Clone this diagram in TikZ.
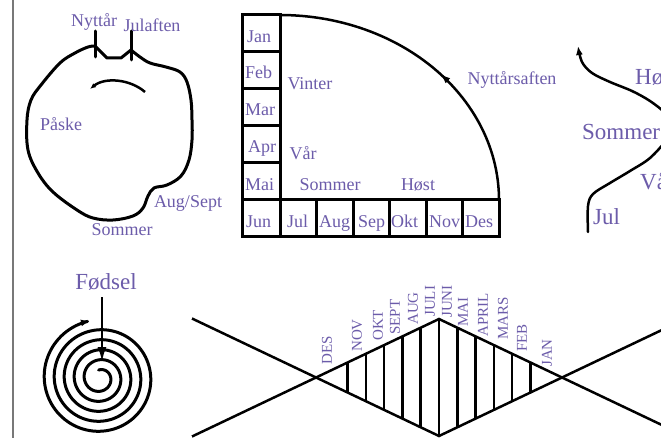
\documentclass[tikz,border=0pt]{standalone}
\usepackage{fontspec}
\setmainfont{Liberation Serif}
\usetikzlibrary{arrows.meta,decorations.markings,calc}
\definecolor{lbl}{RGB}{108,92,170}
\definecolor{framegray}{RGB}{120,120,120}
\begin{document}
\begin{tikzpicture}[x=1pt,y=-1pt,
  lab/.style={text=lbl,font=\fontsize{18}{20}\selectfont,inner sep=0pt},
  biglab/.style={text=lbl,font=\fontsize{23}{25}\selectfont,inner sep=0pt},
  mon/.style={text=lbl,font=\fontsize{15}{17}\selectfont,inner sep=0pt,rotate=90,anchor=west},
  ink/.style={line width=3pt,line join=round,line cap=round},
  dline/.style={line width=2.5pt},
  arrowed/.style={-{Latex[length=9pt,width=7pt]}}]
\useasboundingbox (0,0) rectangle (661,438);
\fill[white] (0,0) rectangle (661,438);
\clip (0,0) rectangle (661,438);
\draw[framegray,line width=1.5pt] (13,0) -- (13,438);

% ---- diagram 1: blob ----
\draw[ink] plot[smooth,tension=0.6] coordinates {(131,50) (140,57) (150,63) (166,67) (180,72) (187,82) (191,100) (192,120) (192,140) (189,160) (181,176) (167,185) (154,188) (148,196) (143,208) (133,216) (113,220) (93,218) (77,210) (53,192) (38,173) (28,150) (27,120) (31,100) (41,85) (60,63) (75,53) (88,47) (95,46)} -- (107,58) -- (121,58) -- cycle;
\coordinate (t1a) at (95,31); \coordinate (t1b) at (95,57);
\coordinate (t2a) at (131,31); \coordinate (t2b) at (131,60);
\draw[ink] (t1a) -- (t1b);
\draw[ink] (t2a) -- (t2b);
\coordinate (ia) at (145,92); \coordinate (ib) at (90,89);
\draw[line width=2.5pt,-{Latex[length=6pt,width=5pt]}] (ia) .. controls (130,79) and (105,77) .. (ib);
\node[lab,anchor=base] (nyttar) at (94,27) {Nyttår};
\node[lab,anchor=base] (julaften) at (152,32) {Julaften};
\node[lab,anchor=base] (paske) at (61,131) {Påske};
\node[lab,anchor=base] (augsept) at (188,208) {Aug/Sept};
\node[lab,anchor=base] (sommerA) at (122,236) {Sommer};

% ---- diagram 2: boxes ----
\node[lab,anchor=base west] (jan) at (247,43) {Jan};
\node[lab,anchor=base west] (feb) at (245,79) {Feb};
\node[lab,anchor=base west] (mar) at (245,116) {Mar};
\node[lab,anchor=base west] (apr) at (248,153) {Apr};
\node[lab,anchor=base west] (mai) at (245,191) {Mai};
\node[lab,anchor=base west] (jun) at (246,228) {Jun};
\node[lab,anchor=base west] (jul) at (287,228) {Jul};
\node[lab,anchor=base west] (aug) at (319,228) {Aug};
\node[lab,anchor=base west] (sep) at (358,228) {Sep};
\node[lab,anchor=base west] (okt) at (391,228) {Okt};
\node[lab,anchor=base west] (nov) at (429,228) {Nov};
\node[lab,anchor=base west] (des) at (465,228) {Des};
\foreach \i in {0,...,5}
  \draw[line width=3pt] (242,{15+\i*37}) rectangle (280,{52+\i*37});
\foreach \i in {1,...,6}
  \draw[line width=3pt] ({280+(\i-1)*36.5},200) rectangle ({280+\i*36.5},237);
\draw[line width=2.5pt,postaction={decorate},decoration={markings,mark=at position 0.45 with {\arrow{Latex[length=10pt,width=7pt]}}}]
  plot[domain=0:90,samples=60] ({280+219*cos(\x)},{200-185*sin(\x)});
\node[lab,anchor=base] (vinter) at (310,90) {Vinter};
\node[lab,anchor=base] (nyttarsaften) at (512,85) {Nyttårsaften};
\node[lab,anchor=base] (var) at (303,160) {Vår};
\node[lab,anchor=base] (sommerB) at (330,191) {Sommer};
\node[lab,anchor=base] (host) at (418,191) {Høst};

% ---- diagram 3: S-curve (cut at the edge) ----
\draw[line width=2.5pt,line cap=round,arrowed] plot[smooth,tension=0.55] coordinates {(588,232) (588,206) (593,194) (610,183) (630,171) (650,158) (667,139) (672,125) (665,113) (650,101) (632,91) (610,82) (592,73) (582,62) (578,46)};
\node[biglab,anchor=base west] (hostC) at (635,85) {Hø};
\node[biglab,anchor=base west] (sommerC) at (582,140) {Sommer};
\node[biglab,anchor=base west] (varC) at (640,190) {Vå};
\node[biglab,anchor=base west] (julC) at (593,225) {Jul};

% ---- diagram 4: spiral ----
\draw[ink,arrowed] plot[domain=-100:1700,samples=500,smooth] ({100+(58-(1700-\x)/36)*cos(\x)},{378+(58-(1700-\x)/36)*sin(\x)});
\node[biglab,anchor=base] (fodsel) at (106,290) {Fødsel};
\coordinate (fa) at (102,297); \coordinate (fb) at (102,362);
\draw[line width=2.5pt,-{Latex[length=15pt,width=9pt]}] (fa) -- (fb);

% ---- diagram 5: diamond ----
\coordinate (L) at (316,377.5); \coordinate (R) at (562,377.5);
\coordinate (T) at (439,319); \coordinate (B) at (439,436);
\coordinate (s1) at (192,318.5); \coordinate (s2) at (192,436.5);
\draw[dline] (s1) -- (B) -- ($(B)!1.9!(R)$);
\draw[dline] (s2) -- (T) -- ($(T)!1.9!(R)$);
\foreach \k in {-5,...,5}
  \draw[dline] ($(T)+({\k*18.3},{abs(\k)*8.704})$) -- ($(B)+({\k*18.3},{-abs(\k)*8.704})$);
\node[mon] (mdes) at (327,365) {DES};
\node[mon] (mnov) at (357,352) {NOV};
\node[mon] (mokt) at (378,341) {OKT};
\node[mon] (msept) at (395,335) {SEPT};
\node[mon] (maug) at (413,325) {AUG};
\node[mon] (mjuli) at (430,317) {JULI};
\node[mon] (mjuni) at (447,318) {JUNI};
\node[mon] (mmai) at (463,327) {MAI};
\node[mon] (mapril) at (483,337) {APRIL};
\node[mon] (mmars) at (503,340) {MARS};
\node[mon] (mfeb) at (522,352) {FEB};
\node[mon] (mjan) at (547,367) {JAN};
\end{tikzpicture}
\end{document}
